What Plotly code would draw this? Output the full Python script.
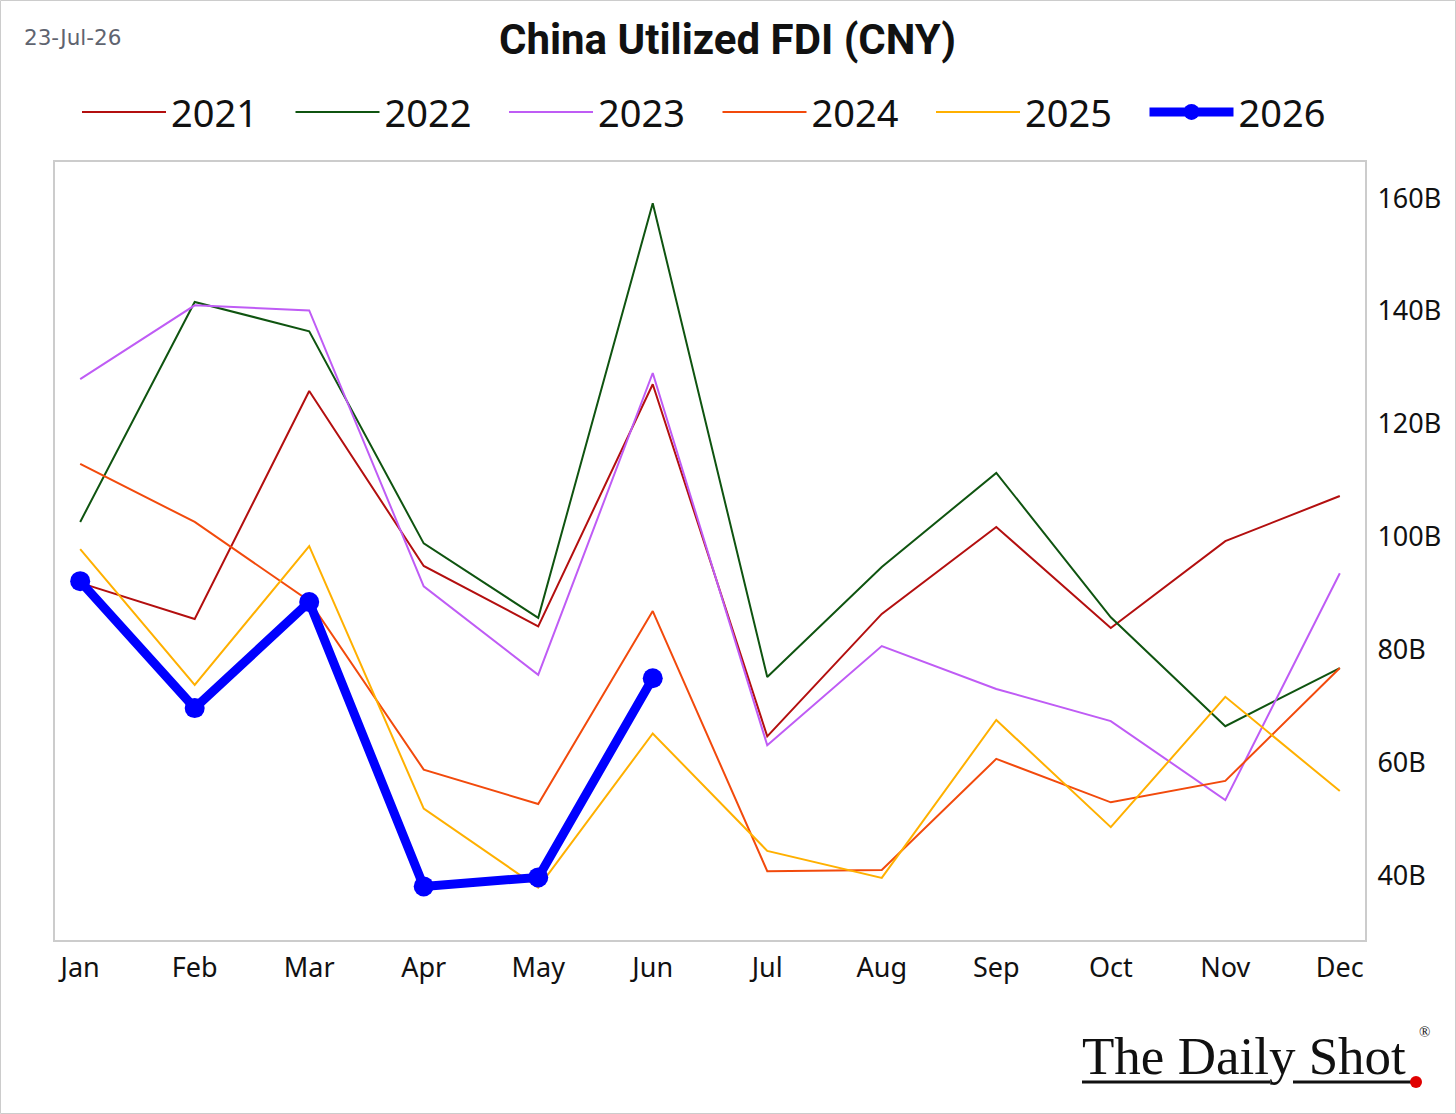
import plotly.graph_objects as go

months = ["Jan", "Feb", "Mar", "Apr", "May", "Jun", "Jul", "Aug", "Sep", "Oct", "Nov", "Dec"]

fdi_2021 = [91.8, 85.4, 125.8, 94.8, 84.1, 127.0, 64.6, 86.3, 101.7, 83.8, 99.2, 107.2]
fdi_2022 = [102.6, 141.6, 136.4, 98.8, 85.6, 159.1, 75.1, 94.6, 111.3, 85.7, 66.4, 76.7]
fdi_2023 = [127.9, 141.0, 140.1, 91.2, 75.5, 129.0, 63.0, 80.6, 73.0, 67.3, 53.3, 93.5]
fdi_2024 = [112.9, 102.6, 88.6, 58.7, 52.6, 86.8, 40.7, 40.9, 60.6, 52.9, 56.7, 76.7]
fdi_2025 = [97.8, 73.7, 98.3, 51.8, 37.8, 65.1, 44.3, 39.5, 67.5, 48.5, 71.6, 54.9]
fdi_2026 = [92.1, 69.6, 88.4, 38.0, 39.6, 74.9]

series = [
    ("2021", fdi_2021, "#b30f0f"),
    ("2022", fdi_2022, "#0f5410"),
    ("2023", fdi_2023, "#bf5cf5"),
    ("2024", fdi_2024, "#f24a0c"),
    ("2025", fdi_2025, "#ffb000"),
]

y_ticks = [40, 60, 80, 100, 120, 140, 160]
y_tick_labels = ["40B", "60B", "80B", "100B", "120B", "140B", "160B"]

fig = go.Figure()
for name, vals, color in series:
    fig.add_trace(go.Scatter(
        x=months[:len(vals)], y=vals, name=name, mode="lines",
        line=dict(color=color, width=2),
    ))
fig.add_trace(go.Scatter(
    x=months[:len(fdi_2026)], y=fdi_2026, name="2026", mode="lines+markers",
    line=dict(color="#0000ff", width=9),
    marker=dict(color="#0000ff", size=20),
))

tick_font = dict(family="Noto Sans", size=27, color="#111111")

fig.update_layout(
    width=1456, height=1114,
    margin=dict(l=55, r=91, t=162, b=174),
    paper_bgcolor="white", plot_bgcolor="white",
    showlegend=True,
    legend=dict(
        orientation="h", x=(82 - 5 - 55) / 1310, xanchor="left", y=1.064, yanchor="middle",
        font=dict(family="Noto Sans", size=38, color="#111111"),
        itemwidth=84, entrywidth=114.5, entrywidthmode="pixels",
        tracegroupgap=0, itemsizing="trace",
        bgcolor="rgba(0,0,0,0)",
    ),
    title=dict(
        text="<b>China Utilized FDI (CNY)</b>",
        xref="container", x=727.5 / 1456, xanchor="center",
        y=(1114 - 39) / 1114, yanchor="middle",
        font=dict(family="Roboto", size=42, color="#111111"),
    ),
    xaxis=dict(
        type="category", categoryorder="array", categoryarray=months,
        range=[-0.22, 11.22],
        showgrid=False, zeroline=False,
        showline=True, linecolor="#cccccc", linewidth=2, mirror=True,
        ticks="", tickfont=tick_font, ticklabelstandoff=3,
    ),
    yaxis=dict(
        side="right", range=[28.5, 166.4],
        tickvals=y_ticks, ticktext=y_tick_labels,
        showgrid=False, zeroline=False,
        showline=True, linecolor="#cccccc", linewidth=2, mirror=True,
        ticks="", tickfont=tick_font, ticklabelstandoff=5,
    ),
)

# date stamp
fig.add_annotation(
    text="23-Jul-26", xref="paper", yref="paper",
    x=(22 - 55) / 1310, y=(940 - 37) / 778, xanchor="left", yanchor="middle",
    showarrow=False, font=dict(family="DejaVu Sans", size=21.5, color="#5f6470"),
)

# outer border
fig.add_shape(type="rect", xref="paper", yref="paper",
              x0=(0.5 - 55) / 1310, x1=(1455.5 - 55) / 1310,
              y0=(940 - 1113.5) / 778, y1=(940 - 0.5) / 778,
              line=dict(color="#cccccc", width=1), fillcolor="rgba(0,0,0,0)", layer="below")

# logo
fig.add_annotation(
    text="The Daily Shot", xref="paper", yref="paper",
    x=(1080 - 55) / 1310, y=(940 - 1056) / 778, xanchor="left", yanchor="middle",
    showarrow=False, font=dict(family="Liberation Serif", size=53, color="#111111"),
)
fig.add_annotation(
    text="®", xref="paper", yref="paper",
    x=(1417 - 55) / 1310, y=(940 - 1042) / 778, xanchor="left", yanchor="bottom",
    showarrow=False, font=dict(family="Liberation Serif", size=15, color="#111111"),
)
fig.add_shape(type="line", xref="paper", yref="paper",
              x0=(1082 - 55) / 1310, x1=(1270 - 55) / 1310,
              y0=(940 - 1082) / 778, y1=(940 - 1082) / 778,
              line=dict(color="#111111", width=3))
fig.add_shape(type="line", xref="paper", yref="paper",
              x0=(1293 - 55) / 1310, x1=(1414 - 55) / 1310,
              y0=(940 - 1082) / 778, y1=(940 - 1082) / 778,
              line=dict(color="#111111", width=3))
fig.add_shape(type="circle", xref="paper", yref="paper",
              x0=(1410 - 55) / 1310, x1=(1422 - 55) / 1310,
              y0=(940 - 1088) / 778, y1=(940 - 1076) / 778,
              line=dict(color="#e00000", width=0), fillcolor="#e00000")

fig.write_html("out.html")
